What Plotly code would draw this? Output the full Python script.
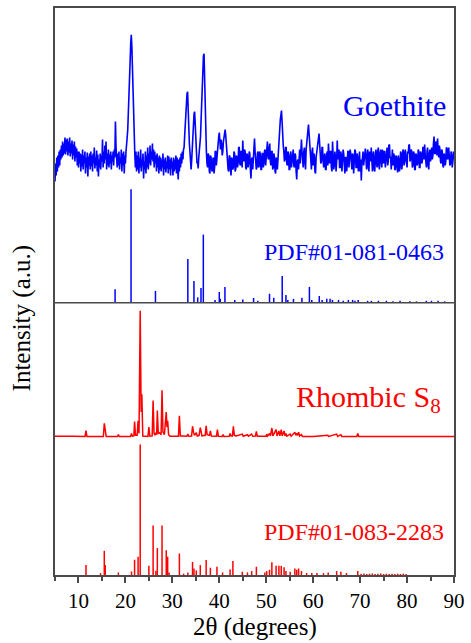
import numpy as np
import plotly.graph_objects as go

# ---------------- DATA ----------------
# Goethite measured pattern: scan grid 5-90 deg, step 0.125 deg; intensities (arb. counts)
GOETHITE_START = 5.0
GOETHITE_STEP = 0.125
GOETHITE_I = [
    0, 18, 6, 24, 10, 26, 14, 30, 16, 32, 22, 36, 24, 40, 26, 38, 28, 44, 27, 42,
    30, 43, 26, 40, 29, 44, 25, 38, 28, 41, 22, 37, 26, 40, 20, 35, 24, 33, 16, 30,
    14, 30, 18, 28, 10, 27, 15, 32, 12, 26, 18, 30, 8, 24, 14, 29, 5, 25, 16, 28,
    12, 30, 15, 26, 10, 28, 18, 34, 13, 24, 16, 31, 10, 27, 5, 22, 14, 28, 12, 26,
    20, 42, 14, 30, 18, 36, 22, 40, 12, 28, 16, 32, 14, 27, 18, 30, 12, 26, 20, 30,
    16, 32, 24, 60, 34, 20, 14, 28, 16, 30, 12, 24, 18, 32, 10, 28, 16, 30, 8, 26,
    18, 30, 35, 44, 52, 65, 80, 100, 120, 138, 147, 135, 110, 80, 55, 36, 28, 14, 30, 10,
    26, 12, 30, 8, 24, 14, 32, 10, 22, 16, 28, 3, 20, 12, 30, 8, 26, 14, 34, 12,
    28, 18, 36, 16, 30, 22, 38, 20, 32, 14, 30, 18, 26, 10, 28, 14, 24, 8, 26, 12,
    24, 10, 22, 14, 28, 6, 22, 12, 24, 9, 20, 13, 26, 8, 25, 12, 22, 6, 24, 13,
    20, 6, 24, 10, 22, 12, 26, 8, 24, 14, 2, 22, 10, 24, 14, 28, 18, 30, 22, 32,
    34, 46, 60, 72, 82, 88, 90, 78, 55, 38, 25, 18, 12, 22, 35, 48, 60, 68, 70, 58,
    40, 26, 18, 20, 13, 24, 30, 38, 45, 62, 80, 100, 120, 126, 128, 100, 60, 40, 30, 18,
    14, 28, 26, 10, 8, 26, 24, 12, 10, 22, 24, 8, 14, 30, 30, 16, 24, 36, 38, 45,
    49, 40, 32, 42, 38, 26, 30, 40, 44, 50, 52, 46, 35, 24, 22, 12, 10, 26, 25, 12,
    6, 24, 22, 12, 14, 30, 28, 10, 12, 26, 24, 14, 18, 34, 34, 18, 16, 30, 30, 14,
    41, 26, 20, 32, 30, 14, 12, 28, 26, 14, 18, 30, 28, 12, 3, 22, 24, 12, 30, 36,
    43, 30, 22, 12, 14, 28, 30, 14, 16, 30, 26, 12, 12, 28, 28, 14, 18, 30, 32, 16,
    24, 36, 40, 24, 22, 34, 38, 20, 16, 30, 30, 12, 14, 28, 24, 10, 8, 24, 22, 12,
    26, 34, 40, 52, 62, 68, 71, 60, 42, 36, 30, 20, 22, 34, 34, 18, 16, 30, 28, 12,
    12, 26, 30, 14, 20, 32, 32, 16, 14, 28, 26, 10, 2, 20, 22, 12, 28, 32, 18, 30,
    42, 30, 24, 14, 30, 34, 18, 12, 32, 38, 44, 52, 57, 48, 38, 26, 24, 12, 30, 34,
    16, 28, 26, 10, 8, 24, 30, 36, 36, 42, 48, 38, 30, 18, 20, 34, 34, 20, 14, 26,
    28, 12, 12, 26, 30, 16, 38, 28, 18, 30, 30, 14, 10, 40, 26, 12, 16, 30, 24, 10,
    20, 41, 22, 30, 32, 14, 14, 30, 26, 10, 18, 32, 28, 14, 8, 24, 24, 10, 16, 30,
    30, 14, 20, 32, 28, 12, 12, 28, 26, 8, 18, 32, 30, 14, 14, 28, 24, 10, 16, 30,
    10, 22, 1, 18, 22, 30, 16, 28, 28, 33, 18, 12, 26, 32, 14, 10, 30, 22, 20, 34,
    20, 10, 27, 30, 12, 10, 25, 32, 18, 14, 30, 34, 16, 12, 28, 32, 20, 14, 32, 22,
    18, 30, 30, 14, 22, 34, 34, 16, 20, 36, 37, 24, 24, 12, 30, 32, 16, 28, 26, 12,
    12, 26, 24, 14, 9, 26, 22, 10, 14, 30, 28, 12, 18, 32, 30, 16, 20, 32, 26, 14,
    14, 30, 28, 36, 37, 20, 22, 32, 30, 14, 16, 30, 28, 12, 12, 28, 26, 16, 18, 32,
    30, 14, 14, 30, 28, 18, 20, 34, 34, 22, 37, 26, 22, 14, 30, 34, 16, 12, 28, 32,
    20, 30, 34, 22, 26, 38, 45, 28, 28, 40, 38, 26, 43, 30, 24, 36, 32, 20, 18, 32,
    30, 16, 14, 28, 26, 16, 20, 34, 33, 22, 24, 34, 28, 16, 18, 30, 26, 14, 20, 30,
    22,
]

# Goethite reference PDF#01-081-0463: positions (2theta) and relative intensities (%)
GOETHITE_PDF_POS = [17.8, 21.2, 26.4, 33.3, 34.6, 35.4, 36.1, 36.6, 39.1, 40.0, 40.2, 41.2,
                    43.3, 45.0, 47.3, 48.2, 50.7, 51.6, 53.4, 54.2, 54.6, 55.8, 57.6, 59.2,
                    59.7, 61.3, 61.9, 62.9, 63.6, 64.1, 65.4, 66.4, 67.5, 68.4, 68.9, 69.6,
                    71.6, 72.4, 73.9, 75.6, 77.0, 78.5, 80.6, 82.0, 84.1, 85.2, 86.6, 88.0]
GOETHITE_PDF_INT = [12, 100, 10.5, 38.6, 19.3, 4.8, 13, 60, 2.6, 9.6, 3.5, 14,
                    2.6, 3, 4.4, 1.8, 8, 4.4, 23.7, 7, 2.6, 3.5, 4.4, 14,
                    2.6, 6, 2.6, 3.5, 3.5, 2.6, 2.6, 1.8, 2.6, 2.6, 1.8, 2.6,
                    1.8, 1.8, 1.8, 1.8, 1.3, 1.8, 1.3, 1.3, 1.8, 1.8, 1.8, 1.3]

# Rhombic S8 measured pattern (2theta, relative intensity %)
S8_X = [5.0, 7.0, 9.0, 11.4, 11.6, 11.8, 13.5, 15.3, 15.5, 15.7, 15.9, 18.3, 18.5, 18.7,
        20.5, 21.1, 21.3, 21.5, 21.8, 21.95, 22.15, 22.5, 22.7, 22.9, 23.15, 23.35, 23.5, 23.7,
        24.8, 25.0, 25.2, 25.7, 25.9, 26.1, 26.3, 26.5, 26.65, 26.8, 27.0, 27.3, 27.6, 27.8,
        28.0, 28.3, 28.7, 28.85, 29.0, 29.2, 29.5, 31.3, 31.5, 31.7, 32.4, 33.1, 33.3, 33.5,
        34.1, 34.3, 34.5, 34.7, 35.1, 35.3, 35.7, 35.95, 36.1, 36.3, 37.0, 37.2, 37.4, 37.9,
        38.1, 38.3, 39.4, 39.6, 39.8, 40.6, 40.8, 41.0, 42.1, 42.3, 42.5, 42.8, 43.0, 43.2,
        43.6, 44.9, 45.1, 46.0, 46.2, 46.9, 47.1, 47.7, 47.9, 48.1, 50.0, 50.1, 50.3, 50.7,
        50.9, 51.2, 51.4, 52.1, 52.3, 52.7, 52.9, 53.2, 53.4, 53.8, 54.0, 54.2, 54.4, 55.1,
        55.3, 56.1, 56.3, 56.5, 56.7, 56.9, 57.1, 57.5, 57.7, 60.0, 63.1, 63.3, 65.0, 65.2,
        65.9, 66.1, 69.3, 69.5, 69.7, 75.0, 80.0, 85.0, 90.0]
S8_Y = [0.8, 1.0, 0.7, 0.6, 5.3, 0.6, 0.5, 0.6, 11, 4, 0.6, 0.5, 2.2, 0.5,
        0.5, 0.6, 3, 0.8, 1, 12.4, 1.5, 1.5, 13, 3, 100, 20, 34, 1,
        0.6, 8, 0.8, 1, 29, 3, 2, 3.5, 2, 21, 3, 3.5, 2, 37,
        4, 2, 20, 8, 13, 2, 0.8, 0.8, 17, 1, 1, 0.8, 2.5, 0.8,
        1, 8.7, 4, 1.5, 3.5, 1, 1.5, 7.6, 5, 1, 1.5, 9, 2, 1.5,
        5, 1, 0.8, 6, 0.8, 0.6, 2, 0.6, 0.8, 3, 1, 1, 8.7, 1.5,
        1, 2.5, 0.8, 2, 0.8, 2.5, 0.8, 1, 4.5, 0.8, 0.8, 2.5, 1, 3,
        1, 7.3, 1, 6, 1, 5, 1, 6, 1, 5, 1, 3, 0.8, 2.5,
        0.8, 4, 1.5, 3, 1.5, 4, 1, 2, 0.6, 0.6, 1.5, 0.6, 2.5, 0.6,
        2, 0.6, 0.6, 3, 0.6, 0.5, 0.6, 0.5, 0.6]

# Rhombic S8 reference PDF#01-083-2283: positions and relative intensities (%)
S8_PDF_POS = [11.6, 14.7, 15.5, 15.7, 18.5, 21.3, 21.95, 22.7, 23.15, 25.0, 25.9, 26.5,
              26.8, 27.8, 28.7, 29.0, 29.3, 31.5, 32.4, 33.3, 34.3, 34.6, 35.1, 35.95,
              37.2, 38.1, 39.5, 40.7, 42.3, 42.9, 44.9, 46.0, 46.9, 47.9, 49.7, 50.1,
              50.7, 51.2, 52.1, 52.7, 53.2, 53.8, 54.2, 55.1, 56.1, 56.5, 56.9, 57.5,
              58.6, 59.7, 60.8, 62.2, 63.2, 65.0, 65.9, 67.1, 69.5, 70.2, 70.8, 71.4,
              72.0, 72.6, 73.2, 73.8, 74.4, 75.0, 75.6, 76.2, 76.8, 77.4, 78.0, 78.6,
              79.2, 79.8]
S8_PDF_INT = [7.6, 1.5, 18.5, 7.6, 2, 2.7, 11.7, 14, 100, 7, 38, 3.3,
              20.6, 38, 19, 14, 2, 16.5, 1, 2, 10, 5, 3.5, 7.6,
              11.5, 5.6, 6.3, 2, 4.3, 10.7, 2.5, 2, 3, 6.3, 2, 3,
              4, 9.7, 7, 7, 7, 6, 3, 2.5, 5, 4, 5, 3,
              1.5, 1.5, 1.5, 1.5, 2, 3, 2.5, 1.5, 3, 1, 1.2, 0.8,
              1, 1.2, 0.8, 1, 1.2, 0.8, 1, 0.8, 1, 0.8, 1, 0.8,
              1, 0.8]

X_TICKS = [10, 20, 30, 40, 50, 60, 70, 80, 90]
LABELS = ["Goethite", "PDF#01-081-0463", "Rhombic S<sub>8</sub>", "PDF#01-083-2283"]

# ---------------- LAYOUT / STACKING ----------------
BLUE = "#0000FF"
RED = "#FF0000"
FONT = "Liberation Serif, Times New Roman, Tinos, DejaVu Serif, Noto Serif, serif"
FRAME = "#4a4a4a"

G_OFF, G_K = 69.42, 1 / 5.69          # goethite measured
GP_OFF, GP_K = 48.0, 0.2004           # goethite sticks
S_OFF, S_K = 24.3, 0.2232             # S8 measured
SP_OFF, SP_K = 0.0, 0.2302            # S8 sticks
DIVIDER = 48.0


def sticks(pos, inten, off, k):
    xs, ys = [], []
    for p, i in zip(pos, inten):
        xs += [p, p, None]
        ys += [off, off + i * k, None]
    return xs, ys


gx = GOETHITE_START + GOETHITE_STEP * np.arange(len(GOETHITE_I))
gy = [G_OFF + v * G_K for v in GOETHITE_I]

fig = go.Figure()
fig.add_trace(go.Scatter(x=gx, y=gy, mode="lines", line=dict(color=BLUE, width=1.6),
                         hoverinfo="skip"))
sx, sy = sticks(GOETHITE_PDF_POS, GOETHITE_PDF_INT, GP_OFF, GP_K)
fig.add_trace(go.Scatter(x=sx, y=sy, mode="lines", line=dict(color=BLUE, width=1.5)))
fig.add_trace(go.Scatter(x=S8_X, y=[S_OFF + v * S_K for v in S8_Y], mode="lines",
                         line=dict(color=RED, width=1.5)))
sx, sy = sticks(S8_PDF_POS, S8_PDF_INT, SP_OFF, SP_K)
fig.add_trace(go.Scatter(x=sx, y=sy, mode="lines", line=dict(color=RED, width=1.5)))

fig.add_shape(type="line", xref="paper", x0=0, x1=1, yref="y", y0=DIVIDER, y1=DIVIDER,
              line=dict(color=FRAME, width=1.5))

ann = [
    (LABELS[0], 88.7, 82.8, BLUE, 30),
    (LABELS[1], 88.3, 57.0, BLUE, 24),
    (LABELS[2], 87.6, 31.1, RED, 30),
    (LABELS[3], 88.3, 7.5, RED, 24),
]
for text, x, y, c, s in ann:
    fig.add_annotation(text=text, x=x, y=y, xref="x", yref="y", xanchor="right",
                       yanchor="middle", showarrow=False,
                       font=dict(family=FONT, size=s, color=c))

fig.add_annotation(text="2θ (degrees)", x=0.5, y=-0.091, xref="paper", yref="paper",
                   xanchor="center", yanchor="middle", showarrow=False,
                   font=dict(family=FONT, size=25, color="black"))
fig.add_annotation(text="Intensity (a.u.)", x=-0.082, y=0.453, xref="paper", yref="paper",
                   xanchor="center", yanchor="middle", showarrow=False, textangle=-90,
                   font=dict(family=FONT, size=25, color="black"))

fig.update_layout(
    width=471, height=643,
    margin=dict(l=55, r=15, t=6, b=68),
    paper_bgcolor="white", plot_bgcolor="white",
    showlegend=False,
    font=dict(family=FONT, color="black"),
    xaxis=dict(range=[5, 90], showline=True, mirror=True, linecolor=FRAME, linewidth=1.5,
               ticks="outside", tickvals=X_TICKS, ticklen=6, tickwidth=1.5, tickcolor=FRAME,
               tickfont=dict(family=FONT, size=21, color="black"),
               minor=dict(ticks="outside", tickvals=[5, 15, 25, 35, 45, 55, 65, 75, 85],
                          ticklen=4, tickwidth=1.5, tickcolor=FRAME),
               showgrid=False, zeroline=False),
    yaxis=dict(range=[0, 100], showline=True, mirror=True, linecolor=FRAME, linewidth=1.5,
               ticks="", showticklabels=False, showgrid=False, zeroline=False),
)

fig.write_html("out.html")
